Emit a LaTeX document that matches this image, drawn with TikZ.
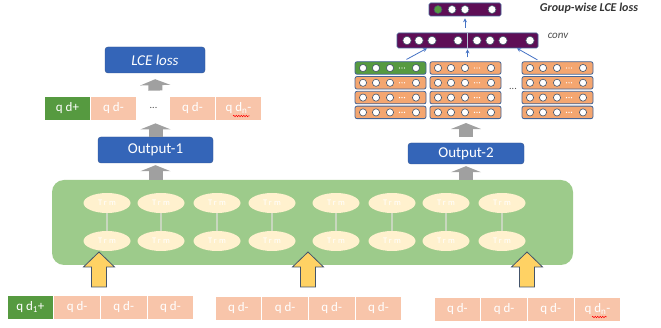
\documentclass[tikz,border=0pt]{standalone}
\usepackage{fontspec}
\setmainfont{Carlito}
\newfontfamily\trmfont[LetterSpace=25]{Carlito}
\usetikzlibrary{arrows.meta,shapes.geometric,decorations.pathmorphing}
\definecolor{boxblue}{RGB}{52,101,184}
\definecolor{boxline}{RGB}{47,82,143}
\definecolor{posgreen}{RGB}{86,154,64}
\definecolor{negpink}{RGB}{248,197,170}
\definecolor{encgreen}{RGB}{157,203,139}
\definecolor{trmcream}{RGB}{255,241,206}
\definecolor{trmline}{RGB}{200,215,190}
\definecolor{rowfill}{RGB}{244,166,112}
\definecolor{rowline}{RGB}{68,100,150}
\definecolor{convpurple}{RGB}{94,14,86}
\definecolor{arrowgray}{RGB}{160,160,160}
\definecolor{arrowblue}{RGB}{68,114,196}
\definecolor{upyellow}{RGB}{255,210,100}
\definecolor{upline}{RGB}{68,84,106}

\begin{document}
\begin{tikzpicture}[x=1pt,y=-1pt,
    outbox/.style={draw=boxline,fill=boxblue,rounded corners=3pt,text=white,
      minimum width=115pt,minimum height=26pt,font=\fontsize{15}{15}\selectfont},
    cell/.style={draw=white,line width=0.8pt,fill=negpink,text=white,inner sep=0pt,
      minimum width=46.7pt,minimum height=24pt,font=\fontsize{13}{13}\selectfont},
    trm/.style={ellipse,fill=trmcream,minimum width=47pt,minimum height=20pt,inner sep=0pt,
      text=white,font=\trmfont\fontsize{8.5}{8.5}\selectfont},
    stackrow/.style={draw=rowline,line width=0.8pt,rounded corners=2pt,
      minimum width=71pt,minimum height=12.5pt,inner sep=0pt},
    bar/.style={draw=rowline,line width=0.6pt,fill=convpurple,rounded corners=1.5pt,inner sep=0pt},
    dotcircle/.style={draw=upline,line width=0.6pt,fill=white},
    grayup/.style={arrowgray,line width=14pt,-{Triangle[width=30pt,length=6pt]}},
    bluearrow/.style={arrowblue,line width=0.8pt,-{Stealth[length=4pt,width=4pt]}},
    upbox/.style={draw=upline,line width=0.8pt,fill=upyellow,line join=miter}]
  \useasboundingbox (0,0) rectangle (661,328);

  % encoder block
  \node[fill=encgreen,rounded corners=12pt,minimum width=521pt,minimum height=85pt] (enc) at (312.5,222.5) {};
  \foreach \tx [count=\k] in {107,161,217,272,336,392,446,502} {
    \node[trm] (t\k) at (\tx,203) {Trm};
    \node[trm] (b\k) at (\tx,241) {Trm};
    \draw[trmline,line width=1.2pt] (t\k) -- (b\k);
  }
  \foreach \ax in {99,308,527}
    \draw[upbox] ({\ax-7.5},287) -- ({\ax-7.5},267) -- ({\ax-15.5},267) -- (\ax,252)
      -- ({\ax+15.5},267) -- ({\ax+7.5},267) -- ({\ax+7.5},287) -- cycle;

  % input groups
  \node[cell,fill=posgreen] (a0) at (30.35,307) {q d\textsubscript{1}+};
  \foreach \g/\gx/\gy/\ilist in {a/7/307/{1,2,3},b/215/308/{0,1,2,3},c/434/309/{0,1,2}}
    \foreach \i in \ilist
      \node[cell] (\g\i) at ({\gx+23.35+\i*46.7},\gy) {q d-};
  \node[cell] (c3) at ({434+23.35+3*46.7},309) {q d\textsubscript{n}-};
  \draw[red,line width=0.5pt,decorate,decoration={snake,amplitude=0.7pt,segment length=2.5pt}]
    ([xshift=-5.5pt,yshift=-8pt]c3.center) -- ([xshift=9.5pt,yshift=-8pt]c3.center);

  % left head
  \node[outbox] (out1) at (155.5,150) {Output-1};
  \node[cell,fill=posgreen] (p1) at (67.5,108) {q d+};
  \node[cell] (p2) at (113.5,108) {q d-};
  \node[cell,fill=none,draw=none,text=black!70,font=\fontsize{10}{10}\selectfont] (p3) at (153.5,108) {...};
  \node[cell] (p4) at (192.5,108) {q d-};
  \node[cell] (p5) at (238.5,108) {q d\textsubscript{n}-};
  \draw[red,line width=0.5pt,decorate,decoration={snake,amplitude=0.7pt,segment length=2.5pt}]
    ([xshift=-5.5pt,yshift=-8pt]p5.center) -- ([xshift=11pt,yshift=-8pt]p5.center);
  \node[outbox,minimum width=100pt,font=\itshape\fontsize{15}{15}\selectfont] (lce) at (155,60) {LCE loss};
  \draw[grayup,shorten >=2pt] (enc.north -| out1.south) -- (out1.south);
  \draw[grayup,shorten >=3pt] (out1.north) -- (out1.north |- p3.south);
  \draw[grayup,shorten <=5pt,shorten >=6pt] (out1.north |- p3.north) -- (lce.south);

  % right head
  \node[outbox,minimum width=116pt,minimum height=21pt] (out2) at (466,153.5) {Output-2};
  \foreach \sx/\s/\topfill in {390.5/l/posgreen,465.5/m/rowfill,557.5/r/rowfill}
    \foreach \r/\rf in {0/\topfill,1/rowfill,2/rowfill,3/rowfill} {
      \node[stackrow,fill=\rf] (\s\r) at (\sx,{68+\r*14.8}) {};
      \foreach \cx in {-27.5,-14.5,-0.5,25.5}
        \draw[dotcircle] ({\sx+\cx},{68+\r*14.8}) circle (3.6);
      \foreach \dx in {9,11.5,14}
        \fill[white] ({\sx+\dx},{68+\r*14.8}) circle (0.7);
    }
  \node[text=black!70,font=\fontsize{10}{10}\selectfont] (sdots) at (513,89) {...};
  \draw[grayup,shorten >=2pt] (enc.north -| out2.south) -- (out2.south);
  \draw[grayup,shorten <=6pt,shorten >=4pt] (out2.north) -- (out2.north |- m3.south);

  \node[bar,minimum width=141pt,minimum height=15pt] (conv) at (467.5,40.5) {};
  \draw[white!60!rowline,line width=0.8pt] (conv.north) -- (conv.south);
  \foreach \cx in {407,419,432,458,477,490,503,530}
    \draw[dotcircle] (\cx,40.5) circle (4.2);
  \node[bar,minimum width=72pt,minimum height=13pt] (top) at (465,9.5) {};
  \draw[dotcircle,fill=posgreen] (438,9.5) circle (4);
  \foreach \cx in {452,465,492}
    \draw[dotcircle] (\cx,9.5) circle (4);
  \node[font=\bfseries\itshape\fontsize{12}{12}\selectfont,text=black!80] (gwl) at (589,8) {Group-wise LCE loss};
  \node[font=\itshape\fontsize{11}{11}\selectfont,text=black!70] (convlbl) at (558,36) {conv};

  \draw[bluearrow,shorten <=4pt] ([xshift=12.5pt]l0.north) -- ([xshift=-40.5pt]conv.south);
  \draw[bluearrow,shorten <=4pt,shorten >=1pt] (m0.north -| conv.south) -- (conv.south);
  \draw[bluearrow,shorten <=3pt] ([xshift=-17.5pt]r0.north) -- ([xshift=49.5pt]conv.south);
  \draw[bluearrow,shorten <=5pt,shorten >=2pt] (conv.north -| top.south) -- (top.south);
\end{tikzpicture}
\end{document}
